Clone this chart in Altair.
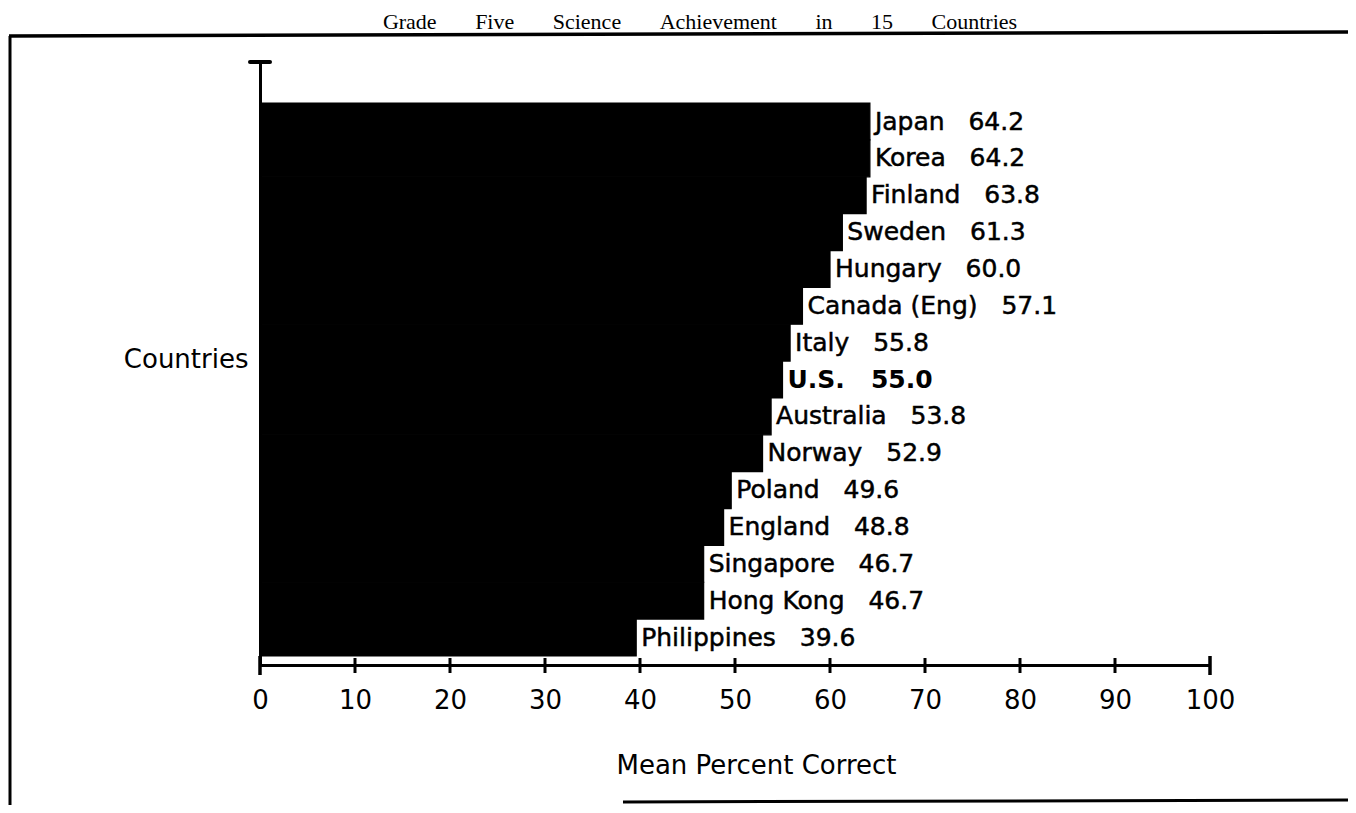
import altair as alt
import pandas as pd

# ---- data ----
countries = ["Japan", "Korea", "Finland", "Sweden", "Hungary", "Canada (Eng)", "Italy",
             "U.S.", "Australia", "Norway", "Poland", "England", "Singapore",
             "Hong Kong", "Philippines"]
scores = [64.2, 64.2, 63.8, 61.3, 60.0, 57.1, 55.8, 55.0, 53.8, 52.9, 49.6, 48.8,
          46.7, 46.7, 39.6]
x_ticks = [0, 10, 20, 30, 40, 50, 60, 70, 80, 90, 100]
title_words = ["Grade", "Five", "Science", "Achievement", "in", "15", "Countries"]
x_title = "Mean Percent Correct"
y_title = "Countries"
highlight = "U.S."

W, H = 950, 603
NB = "\u00a0"
FONT = "DejaVu Sans"

df = pd.DataFrame({"country": countries, "score": scores})
df["label"] = [f"{c}{NB*3}{s:.1f}" for c, s in zip(countries, scores)]
ticks_df = pd.DataFrame({"v": x_ticks})
one = alt.Data(values=[{"k": 0}])

x_scale = alt.Scale(domain=[0, 100], nice=False, zero=True)
x_axis = alt.Axis(values=x_ticks, ticks=False, grid=False, domain=True,
                  domainColor="black", domainWidth=3, labelFont=FONT,
                  labelFontSize=26, labelColor="black", labelPadding=22,
                  labelFlush=False, title=x_title, titleFont=FONT,
                  titleFontSize=26, titleFontWeight="normal", titleColor="black",
                  titleX=496, titleY=108, titleAlign="center",
                  titleBaseline="alphabetic")
x_enc = alt.X("score:Q", scale=x_scale, axis=x_axis)

y_enc = alt.Y("country:N", sort=countries,
              scale=alt.Scale(paddingInner=0, paddingOuter=0.68, align=0.82),
              axis=alt.Axis(title=y_title, labels=False, ticks=False, domain=True,
                            domainColor="black", domainWidth=3, grid=False,
                            titleAngle=0, titleAlign="right",
                            titleBaseline="alphabetic", titleX=-12, titleY=305,
                            titleFont=FONT, titleFontSize=26,
                            titleFontWeight="normal", titleColor="black"))

base = alt.Chart(df)

bars = base.mark_bar(color="black", stroke="black", strokeWidth=1.2).encode(
    x=x_enc, y=y_enc)

labels = base.mark_text(align="left", baseline="middle", dx=5, font=FONT,
                        fontSize=25, color="black", stroke="black",
                        strokeWidth=0.5).encode(
    x=x_enc, y=y_enc, text="label:N").transform_filter(
    alt.datum.country != highlight)

labels_bold = base.mark_text(align="left", baseline="middle", dx=5, font=FONT,
                             fontSize=25, fontWeight="bold", color="black").encode(
    x=x_enc, y=y_enc, text="label:N").transform_filter(
    alt.datum.country == highlight)

tick_x = alt.X("v:Q", scale=x_scale, axis=x_axis)
inner_ticks = alt.Chart(ticks_df).mark_rule(color="black", strokeWidth=3).encode(
    x=tick_x, y=alt.value(H - 7), y2=alt.value(H + 8)).transform_filter(
    (alt.datum.v > 0) & (alt.datum.v < 100))
end_ticks = alt.Chart(ticks_df).mark_rule(color="black", strokeWidth=3.5).encode(
    x=tick_x, y=alt.value(H - 9), y2=alt.value(H + 10)).transform_filter(
    (alt.datum.v == 0) | (alt.datum.v == 100))

# y-axis top cap
cap = alt.Chart(one).mark_rule(color="black", strokeWidth=4, strokeCap="round").encode(
    x=alt.value(-10), x2=alt.value(10), y=alt.value(0))

# frame of the scanned page
frame_top = alt.Chart(one).mark_rule(color="black", strokeWidth=3.5).encode(
    x=alt.value(-251), x2=alt.value(1096), y=alt.value(-26), y2=alt.value(-30))
frame_left = alt.Chart(one).mark_rule(color="black", strokeWidth=3).encode(
    x=alt.value(-250), y=alt.value(-26), y2=alt.value(760))
frame_bottom = alt.Chart(one).mark_rule(color="black", strokeWidth=3).encode(
    x=alt.value(363), x2=alt.value(1096), y=alt.value(740), y2=alt.value(738))

title = alt.Chart(one).mark_text(font="Liberation Serif", fontSize=22, align="center",
                                 baseline="alphabetic", color="black").encode(
    x=alt.value(440), y=alt.value(-33),
    text=alt.value((NB * 7).join(title_words)))

chart = alt.layer(
    bars, labels, labels_bold, inner_ticks, end_ticks, cap,
    frame_top, frame_left, frame_bottom, title
).properties(
    width=W, height=H,
    autosize=alt.AutoSizeParams(type="none"),
    padding={"left": 252, "top": 54, "right": 138, "bottom": 140},
    background="white",
).configure_view(stroke=None)

chart.save("out.html", embed_options={"renderer": "svg", "actions": False})
